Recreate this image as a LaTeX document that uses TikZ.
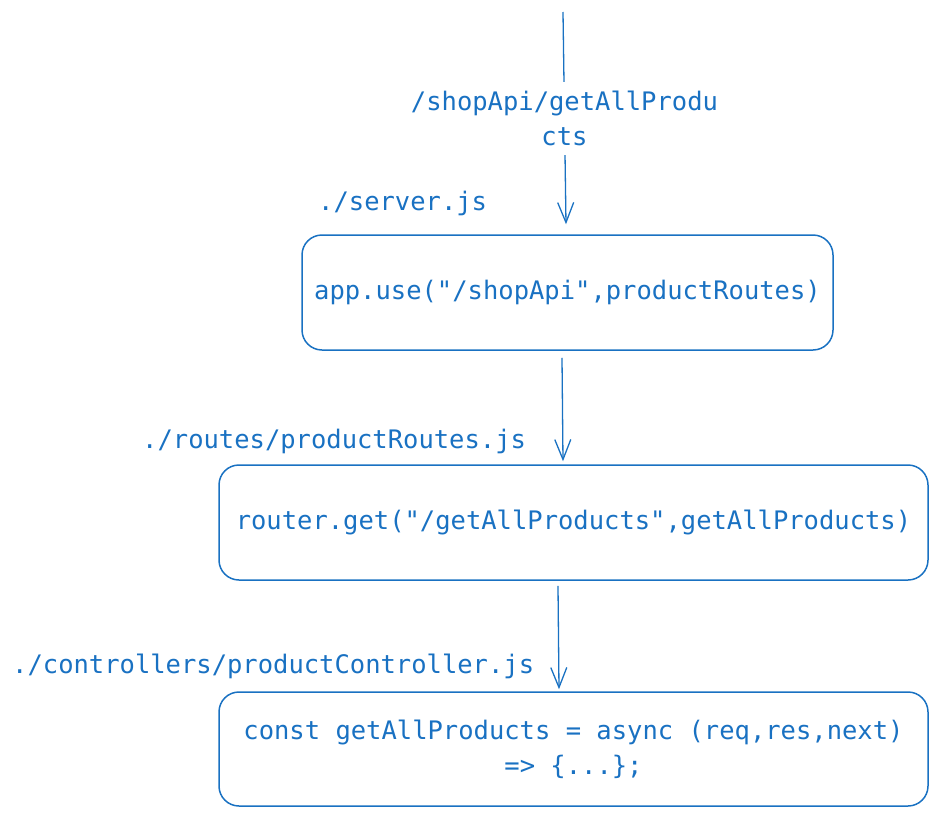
\documentclass[tikz,border=0pt]{standalone}
\usepackage{fontspec}
\setmonofont{DejaVu Sans Mono}
\usepackage{tikz}
\usetikzlibrary{arrows.meta}
\definecolor{exblue}{HTML}{1971C2}

\begin{document}
\begin{tikzpicture}[x=1pt,y=-1pt,
  every node/.style={text=exblue,font=\ttfamily\fontsize{25.5}{35}\selectfont},
  callbox/.style={draw=exblue,line width=1.5pt,rounded corners=20pt,inner sep=0pt},
  flow/.style={draw=exblue,line width=1.3pt,-{Straight Barb[length=20pt,width=16pt,line width=1.3pt]}}]
\useasboundingbox (0,0) rectangle (938,817);
\node[callbox,minimum width=531pt,minimum height=115pt] (server) at (567.5,292.5) {app.use("/shopApi",productRoutes)};
\node[callbox,minimum width=709pt,minimum height=115pt] (routes) at (573.5,522.5) {router.get("/getAllProducts",getAllProducts)};
\node[callbox,minimum width=709pt,minimum height=114pt,align=center] (controller) at (573.5,749) {const getAllProducts = async (req,res,next)\\=> \{...\};};
\node[anchor=west,inner sep=0pt] (serverfile) at (318,203) {./server.js};
\node[anchor=west,inner sep=0pt] (routesfile) at (142,441) {./routes/productRoutes.js};
\node[anchor=west,inner sep=0pt] (controllerfile) at (12,666) {./controllers/productController.js};
\coordinate (request) at (563,12);
\draw[flow] (request) -- node[fill=white,align=center,inner sep=9pt] (url) {/shopApi/getAllProdu\\cts} ([xshift=-1.5pt,yshift=10pt]server.north);
\draw[flow] ([xshift=-5.5pt,yshift=-7pt]server.south) -- ([xshift=-10.5pt,yshift=3pt]routes.north);
\draw[flow] ([xshift=-15.5pt,yshift=-5pt]routes.south) -- ([xshift=-14.5pt,yshift=2pt]controller.north);
\end{tikzpicture}
\end{document}
